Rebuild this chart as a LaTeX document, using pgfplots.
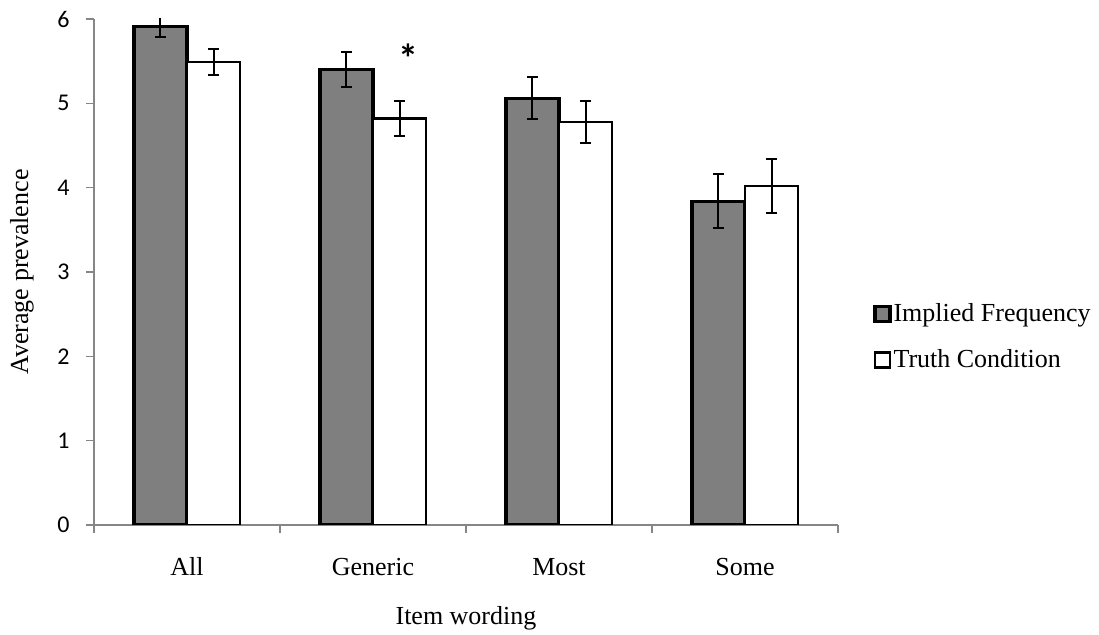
\documentclass[border=0pt]{standalone}
\usepackage{pgfplots}
\usepackage{pgfplotstable}
\pgfplotsset{compat=1.18}
\usepackage{fontspec}
\setmainfont{Liberation Serif}
\newfontfamily\calibri{Carlito}
\definecolor{axisgray}{HTML}{868686}
\definecolor{bargray}{HTML}{7F7F7F}

\pgfplotstableread{
x  impl  implerr  truth  trutherr
0  5.91  0.12     5.49   0.16
1  5.40  0.205    4.82   0.205
2  5.06  0.25     4.78   0.25
3  3.84  0.32     4.02   0.32
}\data

\begin{document}
\begin{tikzpicture}
\useasboundingbox (-47pt,-55pt) rectangle (502.5pt,262.5pt);
\begin{axis}[
  scale only axis, width=372pt, height=253pt,
  xmin=-0.5, xmax=3.5, ymin=0, ymax=6,
  axis lines=left,
  axis line style={draw=axisgray, line width=0.8pt, -},
  tick align=outside,
  major tick length=4pt, minor tick length=4pt,
  ytick={0,1,2,3,4,5,6},
  xtick={0,1,2,3},
  xticklabels={All,Generic,Most,Some},
  minor xtick={-0.5,0.5,1.5,2.5,3.5},
  major x tick style={draw=none},
  minor x tick style={draw=axisgray, line width=0.8pt},
  y tick style={draw=axisgray, line width=0.8pt},
  /pgf/number format/assume math mode=true,
  yticklabel style={font=\calibri\fontsize{12}{12}\selectfont, anchor=east, inner sep=0pt, xshift=-8pt},
  xticklabel style={font=\fontsize{13}{13}\selectfont, anchor=base, inner sep=0pt, yshift=-21.5pt},
  xlabel={Item wording},
  ylabel={Average prevalence},
  xlabel style={font=\fontsize{13}{13}\selectfont, at={(axis description cs:0.5,-0.1976)}, anchor=base, inner sep=0pt},
  ylabel style={font=\fontsize{13}{13}\selectfont, at={(axis description cs:-0.0968,0.5)}, anchor=center, inner sep=0pt},
  ybar=0pt, bar width=0.285,
  legend image code/.code={\draw[#1] (0pt,-3.75pt) rectangle (7.5pt,3.75pt);},
  legend style={at={(axis description cs:1.047,0.3715)}, anchor=west, draw=none, fill=none, inner sep=0pt,
    font=\fontsize{13}{13}\selectfont, row sep=10.5pt, nodes={inner sep=1pt}},
  legend cell align=left,
  error bars/error bar style={line width=1pt, black},
  error bars/error mark options={rotate=90, line width=1pt, mark size=2.75pt, black},
]
\addplot[fill=bargray, draw=black, line width=1.6pt,
  error bars/.cd, y dir=both, y explicit]
  table[x=x, y=impl, y error=implerr] {\data};
\addlegendentry{Implied Frequency}
\addplot[fill=white, draw=black, line width=1.2pt,
  error bars/.cd, y dir=both, y explicit]
  table[x=x, y=truth, y error=trutherr] {\data};
\addlegendentry{Truth Condition}
\node[font=\calibri\bfseries\fontsize{20}{20}\selectfont, anchor=base] at (axis cs:1.19,5.37) {*};
\end{axis}
\end{tikzpicture}
\end{document}
